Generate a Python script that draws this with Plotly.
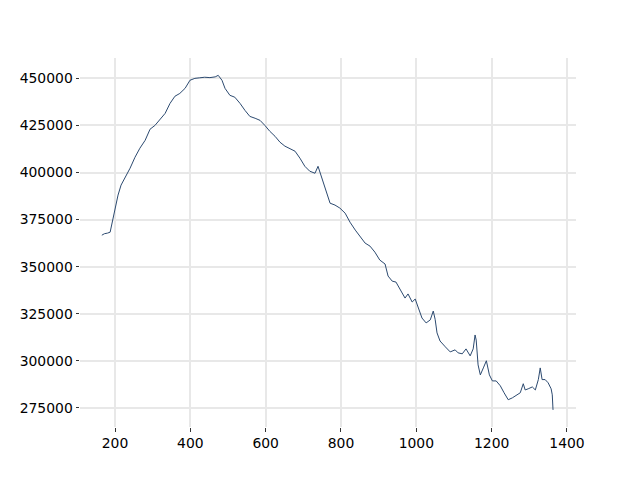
import plotly.graph_objects as go

x_vals = [165, 172, 180, 187, 195, 208, 216, 226, 240, 253, 266, 280, 293, 306, 320, 333, 346,
          359, 372, 386, 399, 412, 425, 438, 452, 466, 474, 479, 484, 492, 505, 518, 532, 545,
          558, 572, 585, 598, 611, 625, 638, 651, 664, 678, 691, 704, 717, 731, 739, 744, 757,
          765, 771, 784, 797, 811, 824, 838, 851, 864, 877, 890, 903, 917, 925, 936, 946, 957,
          970, 978, 989, 997, 1005, 1015, 1026, 1037, 1045, 1050, 1055, 1063, 1077, 1090, 1103,
          1111, 1122, 1132, 1143, 1151, 1156, 1159, 1164, 1170, 1178, 1186, 1194, 1202, 1212,
          1223, 1233, 1244, 1255, 1265, 1276, 1284, 1289, 1297, 1308, 1316, 1324, 1329, 1334,
          1342, 1350, 1358, 1361, 1363]
y_vals = [366700, 367500, 367800, 368300, 375800, 388000, 393300, 397000, 402300, 408100, 412900,
          417100, 423000, 425000, 428300, 431400, 436700, 440500, 442000, 444700, 449000, 450000,
          450300, 450600, 450400, 450800, 451600, 450500, 449000, 444700, 441000, 440000, 436700,
          433000, 429800, 428800, 427700, 425000, 421900, 419200, 416100, 414000, 412900, 411300,
          407600, 403300, 400700, 399600, 403300, 400200, 391100, 386400, 383700, 382700, 381100,
          378400, 373600, 369400, 365700, 362500, 360900, 357700, 353500, 351400, 345000, 342300,
          341800, 337600, 333300, 335500, 331200, 332800, 328600, 322700, 320100, 321700, 326400,
          322000, 314800, 310500, 307400, 304700, 305800, 304200, 303700, 306300, 302600, 306300,
          313700, 311000, 297800, 292500, 296200, 300000, 292500, 289300, 289300, 286700, 283000,
          279300, 280300, 281400, 283000, 287800, 284500, 285100, 286100, 284500, 290000, 296200,
          290000, 290000, 288300, 285100, 281900, 273900]

x_ticks = [200, 400, 600, 800, 1000, 1200, 1400]
y_ticks = [275000, 300000, 325000, 350000, 375000, 400000, 425000, 450000]

fig = go.Figure()
fig.add_trace(go.Scatter(x=x_vals, y=y_vals, mode="lines",
                         line=dict(color="#2c4a70", width=1), showlegend=False))

axis_common = dict(showgrid=True, gridcolor="#e8e8e8", gridwidth=1.6, zeroline=False,
                   showline=False, ticks="outside", ticklen=3.5, tickwidth=1,
                   tickcolor="#333333", tickfont=dict(family="DejaVu Sans", size=13.9, color="black"))

fig.update_layout(
    width=640, height=480,
    margin=dict(l=72, r=72, t=50, b=61),
    paper_bgcolor="white", plot_bgcolor="white",
    xaxis=dict(range=[107, 1424], tickvals=x_ticks, ticktext=[str(v) for v in x_ticks], **axis_common),
    yaxis=dict(range=[264818, 460818], tickvals=y_ticks, ticktext=[str(v) for v in y_ticks], **axis_common),
)

fig.write_html("out.html")
